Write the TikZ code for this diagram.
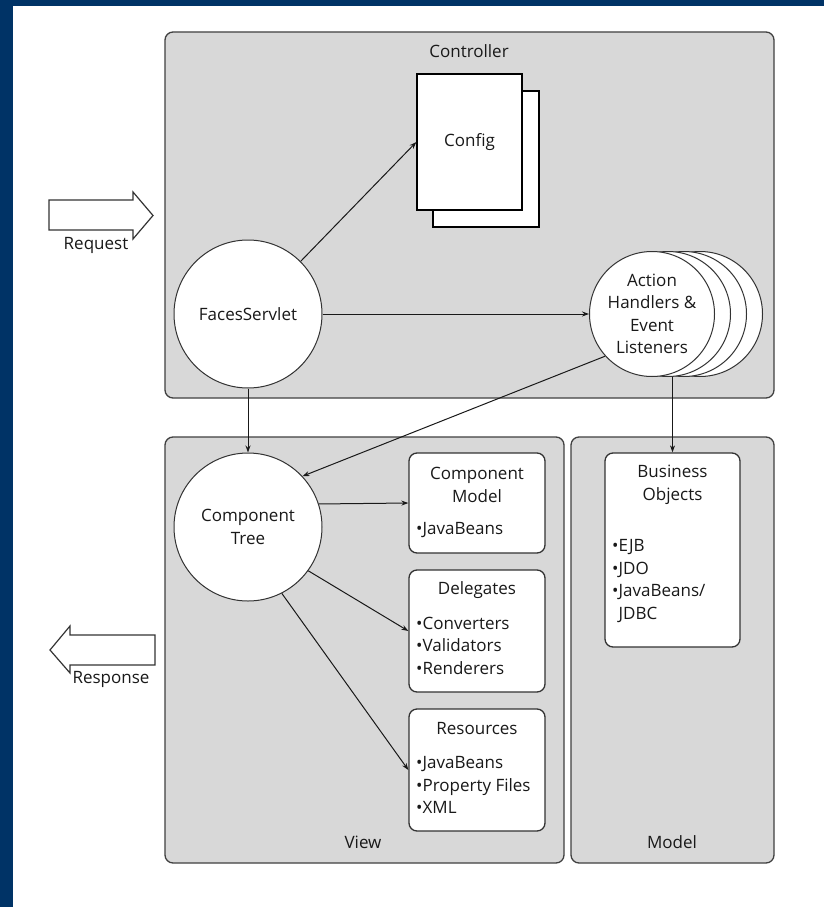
\documentclass[tikz,border=0pt]{standalone}
\usepackage{fontspec}
\setmainfont{Open Sans}
\usetikzlibrary{arrows.meta,calc}
\definecolor{navy}{RGB}{0,51,102}
\definecolor{panelgray}{RGB}{216,216,216}
\definecolor{ink}{RGB}{25,25,25}
\begin{document}
\begin{tikzpicture}[x=1pt,y=-1pt,
  panelbox/.style={draw=black!75, line width=1.3pt, fill=panelgray, rounded corners=8pt, inner sep=0pt},
  whitebox/.style={draw=black!80, line width=1.3pt, fill=white, rounded corners=8pt, inner sep=0pt},
  pagebox/.style={draw=black, line width=1.3pt, fill=white, inner sep=0pt, text=ink, font=\fontsize{17}{22.5}\selectfont},
  bubble/.style={circle, draw=black!80, line width=1pt, fill=white, inner sep=0pt, align=center, text=ink, font=\fontsize{17}{22.5}\selectfont},
  conn/.style={-{Stealth[length=7pt,width=5pt]}, line width=1pt, draw=ink},
  lbl/.style={inner sep=0pt, text=ink, font=\fontsize{17}{22.5}\selectfont, align=center},
  lst/.style={inner sep=0pt, text=ink, font=\fontsize{17}{22.5}\selectfont, align=left, anchor=west},
  bigarrow/.style={draw=black!80, line width=1.2pt, fill=white, line join=miter}
]
\useasboundingbox (0,0) rectangle (824,907);
\fill[white] (0,0) rectangle (824,907);
\fill[navy] (0,0) rectangle (824,6);
\fill[navy] (0,0) rectangle (13,907);

% panels
\node[panelbox, minimum width=609pt, minimum height=366pt] (ctrl) at (469.5,215) {};
\node[panelbox, minimum width=399pt, minimum height=426pt] (view) at (364.5,650) {};
\node[panelbox, minimum width=203pt, minimum height=426pt] (model) at (672.5,650) {};
\node[lbl] (ctrllbl) at (469,51) {Controller};
\node[lbl] (viewlbl) at (363,842) {View};
\node[lbl] (modellbl) at (672,842) {Model};

% config pages
\node[pagebox, minimum width=106pt, minimum height=136pt] (configback) at (486,159) {};
\node[pagebox, minimum width=105pt, minimum height=136pt] (config) at (469.5,142) {Config};

% circles
\node[bubble, minimum size=148pt] (fs) at (248,314) {FacesServlet};
\node[bubble, minimum size=148pt] (ct) at (248,527) {Component\\Tree};
\node[bubble, minimum size=125pt] (ah4) at (700,314) {};
\node[bubble, minimum size=125pt] (ah3) at (684,314) {};
\node[bubble, minimum size=125pt] (ah2) at (668,314) {};
\node[bubble, minimum size=125pt] (ah) at (652,314) {Action\\Handlers \&\\Event\\Listeners};

% view boxes
\node[whitebox, minimum width=136pt, minimum height=100pt] (cm) at (477,503) {};
\node[lbl] (cmtitle) at (477,485) {Component\\Model};
\node[lst] (cmlist) at (416,530) {\textbullet JavaBeans};

\node[whitebox, minimum width=136pt, minimum height=122pt] (del) at (477,631) {};
\node[lbl] (deltitle) at (477,590) {Delegates};
\node[lst] (dellist) at (416,645.5) {\textbullet Converters\\\textbullet Validators\\\textbullet Renderers};

\node[whitebox, minimum width=136pt, minimum height=122pt] (res) at (477,770) {};
\node[lbl] (restitle) at (477,729) {Resources};
\node[lst] (reslist) at (416,785) {\textbullet JavaBeans\\\textbullet Property Files\\\textbullet XML};

% model box
\node[whitebox, minimum width=135pt, minimum height=194pt] (bo) at (672.5,550) {};
\node[lbl] (botitle) at (672.5,485) {Business\\Objects};
\node[lst] (bolist) at (612,581) {\textbullet EJB\\\textbullet JDO\\\textbullet JavaBeans/\\\phantom{\textbullet}JDBC};

% request / response arrows
\draw[bigarrow] (49,200) -- (133,200) -- (133,192) -- (153,215.5) -- (133,239) -- (133,230) -- (49,230) -- cycle;
\node[lbl] (reqlbl) at (96,245) {Request};
\draw[bigarrow] (155,635) -- (70,635) -- (70,626) -- (50,650) -- (70,673) -- (70,665) -- (155,665) -- cycle;
\node[lbl] (resplbl) at (111,679) {Response};

% connectors
\draw[conn] (fs.45) -- (config.west);
\draw[conn] (fs.east) -- (ah.west);
\draw[conn] (fs.south) -- (ct.north);
\draw[conn] (ah.222) -- (ct.43);
\draw[conn] (bo.north |- ah.south) -- (bo.north);
\draw[conn] (ct.18) -- (cm.west);
\draw[conn] (ct.-36) -- (del.west);
\draw[conn] (ct.-63) -- (res.west);
\end{tikzpicture}
\end{document}
